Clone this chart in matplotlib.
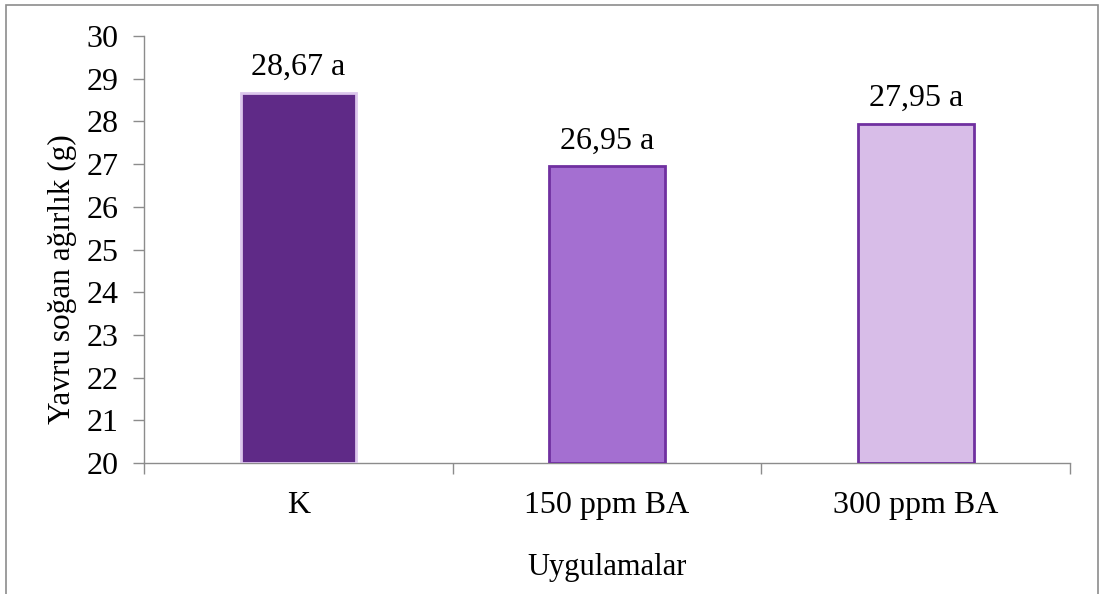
import matplotlib.pyplot as plt
from matplotlib.patches import Rectangle
import numpy as np

categories = ['K', '150 ppm BA', '300 ppm BA']
values = [28.67, 26.95, 27.95]
letters = ['a', 'a', 'a']
face_colors = ['#5f2a87', '#a46fd1', '#d8bde8']
edge_colors = ['#dcc6ec', '#7030a0', '#7030a0']

plt.rcParams['font.family'] = ['Liberation Serif', 'DejaVu Serif']

fig = plt.figure(figsize=(11.03, 5.94), dpi=100)
ax = fig.add_axes([0.1306, 0.2205, 0.8395, 0.7189])

x = np.arange(len(categories))
ax.bar(x, np.array(values) - 20, bottom=20, width=0.375,
       color=face_colors, edgecolor=edge_colors, linewidth=2, zorder=3)

for xi, v, l in zip(x, values, letters):
    ax.text(xi, v + 0.25, f'{v:.2f}'.replace('.', ',') + ' ' + l,
            ha='center', va='bottom', fontsize=23)

ax.set_xlim(-0.5, 2.5)
ax.set_ylim(20, 30)
ax.set_yticks(range(20, 31))
ax.set_xticks(x)
ax.set_xticklabels(categories)
ax.set_xticks([-0.5, 0.5, 1.5, 2.5], minor=True)
ax.tick_params(axis='x', which='major', length=0, pad=20, labelsize=23)
ax.tick_params(axis='x', which='minor', length=8, color='#8c8c8c', width=1)
ax.tick_params(axis='y', length=8, color='#8c8c8c', width=1, labelsize=23, pad=10.5)

for s in ['top', 'right']:
    ax.spines[s].set_visible(False)
for s in ['left', 'bottom']:
    ax.spines[s].set_color('#8c8c8c')
    ax.spines[s].set_linewidth(1)

ax.set_xlabel('Uygulamalar', fontsize=22, labelpad=24)
ax.set_ylabel('Yavru soğan ağırlık (g)', fontsize=22.5)
ax.yaxis.set_label_coords(-0.072, 0.43)

# outer frame, open at the bottom edge
fig.patches.append(Rectangle((0.005, -0.02), 0.9905, 1.0115, transform=fig.transFigure,
                             fill=False, edgecolor='#8c8c8c', linewidth=1.2))

fig.savefig('out.png', dpi=100)
